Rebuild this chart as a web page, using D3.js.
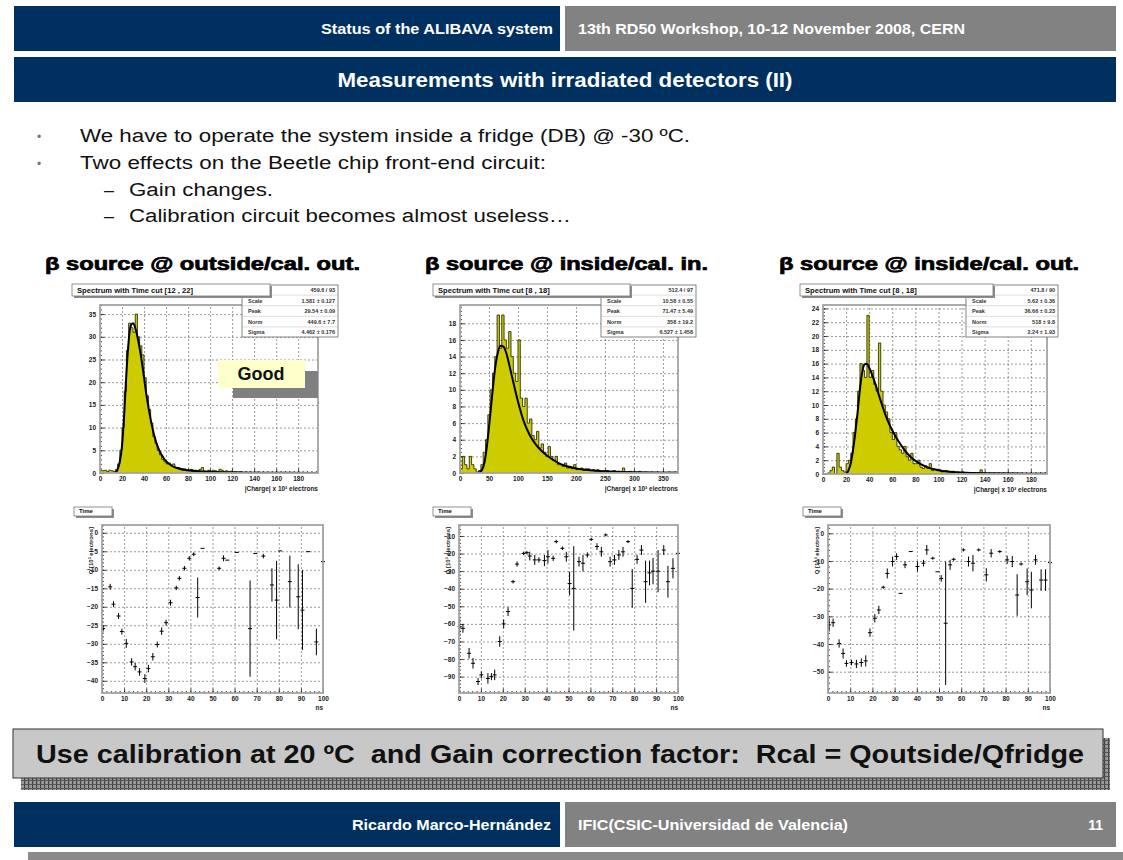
<!DOCTYPE html>
<html>
<head>
<meta charset="utf-8">
<script src="https://cdn.jsdelivr.net/npm/d3@7"></script>
<style>
  html, body { margin: 0; padding: 0; background: #fff; }
  svg { display: block; }
  text { white-space: pre; }
</style>
</head>
<body>
<svg id="slide" width="1123" height="860"></svg>
<script>
(function () {
  'use strict';

  // textos del slide
  var headerLeft = "Status of the ALIBAVA system";
  var headerRight = "13th RD50 Workshop, 10-12 November 2008, CERN";
  var slideTitle = "Measurements with irradiated detectors (II)";
  var bullets = [
    "We have to operate the system inside a fridge (DB) @ -30 ºC.",
    "Two effects on the Beetle chip front-end circuit:"
  ];
  var subBullets = ["Gain changes.", "Calibration circuit becomes almost useless…"];
  var headings = ["β source @ outside/cal. out.", "β source @ inside/cal. in.", "β source @ inside/cal. out."];
  var conclusion = "Use calibration at 20 ºC  and Gain correction factor:  Rcal = Qoutside/Qfridge";
  var footerLeft = "Ricardo Marco-Hernández";
  var footerRight = "IFIC(CSIC-Universidad de Valencia)";
  var pageNumber = "11";

  var spectrumTitles = ["Spectrum with Time cut [12 , 22]", "Spectrum with Time cut [8 , 18]", "Spectrum with Time cut [8 , 18]"];
  var statNames = ["χ²/ndf", "Scale", "Peak", "Norm", "Sigma"];
  var stats1 = ["459.6 / 93", "1.581 ± 0.127", "29.54 ± 0.09", "449.6 ± 7.7", "4.462 ± 0.176"];
  var stats2 = ["512.4 / 97", "10.58 ± 0.55", "71.47 ± 5.49", "358 ± 19.2", "6.527 ± 1.458"];
  var stats3 = ["471.8 / 90", "5.62 ± 0.36", "36.66 ± 0.23", "518 ± 9.8", "2.24 ± 1.93"];

  // espectros: contenido por bin (bin de 2, 4 y 2 unidades desde 0)
  var spec1BinWidth = 2;
  var spec1Counts = [0.6, 0.5, 0.6, 0.3, 0.6, 0.5, 0.3, 0.8, 2, 5,
    10, 18, 27, 33, 32, 31, 35, 30, 28, 26,
    21, 17, 14, 11, 8, 6.5, 5, 4, 3, 2.5,
    2, 2.2, 1.8, 2, 1.2, 1.2, 0.8, 0.6, 0.9, 0.5,
    0.6, 0.8, 0.4, 0.6, 0.5, 0.8, 1.2, 0.5, 0.4, 0.6,
    0.3, 0.6, 0.5, 0.3, 0.8, 0.6, 0.3, 0.5, 0.3, 0.4,
    0.2, 0.3, 0.1, 0.3, 0.2, 0.1, 0.2, 0, 0.2, 0.1,
    0, 0.2, 0, 0.1, 0, 0, 0.1, 0, 0, 0,
    0, 0, 0, 0, 0, 0, 0, 0, 0, 0,
    0, 0, 0, 0, 0, 0, 0, 0, 0];
  var fit1 = [[14, 0], [16, 0.8], [18, 2.5], [20, 6], [22, 13], [24, 22], [26, 29], [28, 32.5], [30, 33],
    [32, 32], [34, 30], [36, 27.5], [38, 24.5], [40, 21], [42, 17.5], [44, 14.5], [46, 11.8], [48, 9.5],
    [50, 7.6], [52, 6.1], [54, 4.9], [56, 4], [58, 3.2], [60, 2.6], [65, 1.6], [70, 1.1], [80, 0.6],
    [90, 0.4], [100, 0.25], [120, 0.12], [140, 0.06], [170, 0.03], [198, 0.02]];

  var spec2BinWidth = 4;
  var spec2Counts = [0.5, 2, 1, 0.5, 2, 1, 0.5, 0, 0.3, 1,
    2.5, 4, 7, 10, 12, 14, 19, 15, 19, 16,
    15, 17, 14, 12, 11, 16, 9, 8, 9, 6,
    6.5, 4.5, 4, 5, 3, 3.5, 2.5, 2, 3.2, 2,
    1.5, 2, 1, 1, 0.8, 1.2, 0.6, 0.8, 0.5, 1,
    0.4, 0.5, 0.6, 0.3, 0.5, 0.5, 0.3, 0.4, 0.2, 0.4,
    0.3, 0.2, 0.3, 0.3, 0.1, 0.2, 0.3, 0.1, 0.2, 0.1,
    0.6, 0.1, 0.1, 0.2, 0.1, 0.1, 0.1, 0.2, 0.1, 0.1,
    0.1, 0.1, 0.1, 0.1, 0.1, 0.1, 0.1, 0.1, 0.1, 0.1,
    0.1, 0.1, 0.1, 0.1];
  var fit2 = [[32, 0], [38, 0.4], [42, 1.2], [46, 3], [50, 5.5], [55, 9], [60, 12.3], [65, 14.4], [70, 15.3],
    [75, 15.2], [80, 14.4], [85, 13], [90, 11.5], [95, 10], [100, 8.6], [110, 6.2], [120, 4.6], [130, 3.5],
    [140, 2.7], [150, 2.1], [160, 1.6], [170, 1.2], [180, 0.9], [200, 0.55], [220, 0.35], [250, 0.2],
    [300, 0.08], [350, 0.03], [376, 0.02]];

  var spec3BinWidth = 2;
  var spec3Counts = [0, 0, 0, 0.5, 1, 0, 3, 1, 0.5, 0.3,
    1.5, 2, 3, 6, 8, 12, 16, 15, 14, 23,
    14, 15, 13, 12, 19, 12, 10, 9, 8, 6,
    5, 6, 4, 3.5, 3, 4, 2.5, 2, 3, 1.5,
    1.5, 2, 1, 0.8, 1.2, 0.8, 1.5, 0.5, 0.7, 0.5,
    0.6, 0.3, 0.4, 0.5, 0.3, 0.3, 0.4, 0.2, 0.3, 0.2,
    0.3, 0.2, 0.1, 0.2, 0.1, 0.2, 0.1, 0.2, 0.6, 0.1,
    0.1, 0.1, 0.1, 0.1, 0.1, 0.1, 0.1, 0.1, 0.1, 0.1,
    0.1, 0.1, 0.1, 0.1, 0.1, 0.1, 0.1, 0.1, 0.1, 0.1,
    0.1, 0.1, 0.1, 0.1, 0.1, 0.1, 0.1];
  var fit3 = [[20, 0], [22, 0.5], [24, 1.5], [26, 3.5], [28, 6], [30, 9], [32, 12.3], [34, 14.8], [36, 15.9],
    [38, 16], [40, 15.4], [43, 14.2], [46, 12.7], [50, 10.6], [54, 8.6], [58, 7], [62, 5.7], [66, 4.6],
    [70, 3.6], [75, 2.6], [80, 1.9], [90, 1], [100, 0.55], [120, 0.2], [140, 0.1], [194, 0.03]];

  // escaneo en tiempo: [ns, carga (10^3 e), error]
  var time1 = [[0.5, -25.9, 0.8], [3.7, -14.6, 0.8], [5.2, -19.3, 0.8], [7.5, -22.5, 0.8], [9, -26.7, 0.8],
    [11, -29.9, 1.2], [13.4, -34.9, 1], [15, -36.2, 1], [17, -37.6, 1], [19.4, -39.4, 1.2], [21, -36.7, 1],
    [23, -33.5, 1], [25, -30.2, 0.8], [27, -26.6, 1], [29, -24.3, 0.8], [31, -18.9, 0.8], [33.6, -14.9, 0.6],
    [35, -12.3, 0.6], [37.3, -9.6, 0.6], [39.5, -6.9, 0.6], [41.5, -5.8, 0.5], [43.3, -17.5, 5.4],
    [45.5, -4.2, 0], [53, -9.6, 0.5], [55, -6.9, 0.8], [56.7, -7.4, 0], [61, -5.3, 0], [67, -25.9, 13],
    [69.4, -5.6, 0], [73, -6.3, 0.6], [76.9, -14.1, 4.5], [79, -18.2, 10.6], [80.6, -4.9, 0],
    [85, -13.2, 7], [88.8, -17.3, 8.8], [90.7, -20.9, 10.8], [93.3, -5.1, 0], [97, -29.5, 3.6], [100, -7.8, 0.5]];
  var time2 = [[0.3, -61.6, 4.7], [1.8, -62.5, 2.5], [4.6, -76.7, 3], [6.4, -82.4, 3], [8.7, -92.8, 2],
    [10.2, -89, 2], [13.2, -91, 3], [14.8, -90, 2], [16.3, -89, 3], [18.6, -70, 3], [20.4, -60, 2.5],
    [22.4, -53, 2.5], [24.7, -36, 1], [26.5, -26, 1.5], [29.5, -19.9, 1], [31, -19.5, 1], [32.3, -21.4, 2.5],
    [34.6, -23.6, 2.8], [36.5, -23.6, 1.5], [39, -24, 3.2], [40.6, -21.8, 3.8], [43, -22.7, 1.5],
    [44.4, -13.2, 1], [47.2, -17, 1], [49, -21.8, 2.8], [50.5, -37, 6.6], [52.4, -39.8, 24],
    [54.8, -24.6, 2.8], [56.6, -25.5, 4.7], [58.6, -20.8, 1.5], [60.4, -11.9, 0.5], [63, -16, 1.9],
    [65, -19, 2.8], [67, -9.4, 0.5], [69, -24.6, 2.8], [71, -23.6, 2.8], [73, -20.8, 2.8], [74.9, -19, 2.8],
    [77.2, -13.2, 0.5], [79.1, -39.8, 11], [81.3, -23.3, 2.5], [83.3, -18, 2.8], [85.2, -36, 12],
    [87, -31, 7], [88.6, -30, 7.5], [90.9, -30, 12], [93.5, -18, 2.8], [95.4, -36, 9], [97.7, -28.4, 5.7],
    [100, -19.9, 0.5]];
  var time3 = [[0.5, -33.1, 2.4], [2.3, -32.3, 1.5], [5, -39.8, 1.5], [6.8, -43.4, 1.8], [8.3, -47, 1.2],
    [10.6, -46.7, 1], [12.8, -47.2, 1.5], [15, -46.7, 1.5], [17, -46.1, 2], [18.9, -35.9, 1.5],
    [21.1, -30.7, 1.5], [22.9, -27.7, 1.5], [24.9, -19.5, 0.5], [26.7, -14.5, 1.8], [29.1, -10.2, 1.8],
    [30.9, -8.4, 1.2], [32.7, -21.7, 0], [34.7, -11.4, 1.2], [37.3, -6.6, 0], [40.3, -12, 1.8],
    [43, -10.8, 1.2], [44.5, -6, 1.8], [47.2, -9, 0.5], [49.3, -13.9, 0], [51, -16.3, 1.2],
    [53, -32.5, 22.3], [55, -11.4, 1.8], [56.6, -9.4, 0.5], [61, -6, 0.5], [63.3, -10.2, 1.8],
    [65.3, -10.8, 3], [67.9, -6, 0.5], [71.3, -15, 2.4], [73.5, -7.2, 1.5], [77.4, -6.6, 0.5],
    [80.7, -9.6, 1.5], [83, -10.2, 2], [85.2, -22.3, 7.5], [87, -11.1, 0.5], [89.7, -17.5, 4.8],
    [91.6, -20.5, 6.6], [93.5, -9.6, 1.8], [96, -16.9, 3.9], [98, -16.9, 3.9], [100, -10.6, 0.5]];

  // etiquetas de los ejes
  var specXTicks1 = [0, 20, 40, 60, 80, 100, 120, 140, 160, 180];
  var specYTicks1 = [0, 5, 10, 15, 20, 25, 30, 35];
  var specXTicks2 = [0, 50, 100, 150, 200, 250, 300, 350];
  var specYTicks2 = [0, 2, 4, 6, 8, 10, 12, 14, 16, 18];
  var specXTicks3 = [0, 20, 40, 60, 80, 100, 120, 140, 160, 180];
  var specYTicks3 = [0, 2, 4, 6, 8, 10, 12, 14, 16, 18, 20, 22, 24];
  var timeXTicks = [0, 10, 20, 30, 40, 50, 60, 70, 80, 90, 100];
  var timeYTicks1 = [0, -5, -10, -15, -20, -25, -30, -35, -40];
  var timeYTicks2 = [-10, -20, -30, -40, -50, -60, -70, -80, -90];
  var timeYTicks3 = [0, -10, -20, -30, -40, -50];

  var NAVY = "#00305f";
  var GREY = "#828282";
  var FONT = "'Liberation Sans', Arial, sans-serif";
  var NARROW = "'Liberation Sans Narrow', 'Liberation Sans', Arial, sans-serif";

  var svg = d3.select("#slide");
  var defs = svg.append("defs");

  drawSlideFrame();
  drawBullets();

  // histogramas de carga
  drawSpectrum({ x: 100, y: 305, w: 218, h: 168, xMax: 198, yMax: 37, xMinor: 4, yMinor: 1,
    counts: spec1Counts, binWidth: spec1BinWidth, fit: fit1, xTicks: specXTicks1, yTicks: specYTicks1,
    title: spectrumTitles[0], titleBox: [72, 284, 198], stats: stats1, statsBox: [242, 285, 96, 52] });
  drawSpectrum({ x: 460, y: 305, w: 218, h: 168, xMax: 376, yMax: 20.2, xMinor: 10, yMinor: 0.5,
    counts: spec2Counts, binWidth: spec2BinWidth, fit: fit2, xTicks: specXTicks2, yTicks: specYTicks2,
    title: spectrumTitles[1], titleBox: [433, 284, 197], stats: stats2, statsBox: [601, 285, 95, 52] });
  drawSpectrum({ x: 823, y: 305, w: 224, h: 169, xMax: 194, yMax: 24.5, xMinor: 4, yMinor: 0.5,
    counts: spec3Counts, binWidth: spec3BinWidth, fit: fit3, xTicks: specXTicks3, yTicks: specYTicks3,
    title: spectrumTitles[2], titleBox: [800, 284, 193], stats: stats3, statsBox: [966, 285, 92, 52] });

  drawGoodLabel();

  // escaneos de tiempo
  drawTimeScan({ x: 102, y: 525, w: 221, h: 168, yMin: -43.3, yMax: 2.1, yMinor: 1,
    points: time1, yTicks: timeYTicks1, titleBox: [74, 507] });
  drawTimeScan({ x: 459, y: 525, w: 219, h: 168, yMin: -99.3, yMax: -3.75, yMinor: 2,
    points: time2, yTicks: timeYTicks2, titleBox: [433, 507] });
  drawTimeScan({ x: 828, y: 525, w: 222, h: 168, yMin: -57.7, yMax: 3, yMinor: 2,
    points: time3, yTicks: timeYTicks3, titleBox: [803, 507] });

  drawConclusion();

  function drawSlideFrame() {
    // cabecera
    svg.append("rect").attr("x", 14).attr("y", 6).attr("width", 546).attr("height", 45).attr("fill", NAVY);
    svg.append("rect").attr("x", 565).attr("y", 6).attr("width", 551).attr("height", 45).attr("fill", GREY);
    addText(553, 34, headerLeft, { size: 14, weight: "bold", anchor: "end", family: NARROW, length: 232 });
    addText(578, 34, headerRight, { size: 14, weight: "bold", family: NARROW, length: 387 });

    svg.append("rect").attr("x", 14).attr("y", 57).attr("width", 1102).attr("height", 45).attr("fill", NAVY);
    addText(565, 87, slideTitle, { size: 20, weight: "bold", anchor: "middle", family: NARROW, length: 455 });

    // pie de pagina
    svg.append("rect").attr("x", 14).attr("y", 802).attr("width", 546).attr("height", 45).attr("fill", NAVY);
    svg.append("rect").attr("x", 565).attr("y", 802).attr("width", 551).attr("height", 45).attr("fill", GREY);
    svg.append("rect").attr("x", 28).attr("y", 852).attr("width", 1095).attr("height", 8).attr("fill", "#8a8a8a");
    addText(551, 830, footerLeft, { size: 14, weight: "bold", anchor: "end", family: NARROW, length: 199 });
    addText(578, 830, footerRight, { size: 14, weight: "bold", family: NARROW, length: 270 });
    addText(1103, 830, pageNumber, { size: 14, weight: "bold", anchor: "end", family: NARROW });
  }

  function drawBullets() {
    var lengths = [610, 466];
    bullets.forEach(function (b, i) {
      var y = 142 + i * 27;
      addText(37, y - 1, "•", { size: 12, fill: "#777" });
      addText(80, y, b, { size: 18, fill: "#111", length: lengths[i] });
    });
    var subLengths = [144, 442];
    subBullets.forEach(function (b, i) {
      var y = 196 + i * 26;
      addText(104, y, "–", { size: 18, fill: "#111" });
      addText(129, y, b, { size: 18, fill: "#111", length: subLengths[i] });
    });

    // titulos de columna, mas gruesos como Arial Black
    var hx = [45, 425, 779];
    var hl = [315, 283, 300];
    headings.forEach(function (h, i) {
      addText(hx[i], 270, h, { size: 18, weight: "bold", fill: "#000", length: hl[i] })
        .attr("stroke", "#000").attr("stroke-width", 0.7);
    });
  }

  function drawGoodLabel() {
    svg.append("rect").attr("x", 233).attr("y", 371).attr("width", 85).attr("height", 27).attr("fill", "#808080");
    svg.append("rect").attr("x", 218).attr("y", 360).attr("width", 87).attr("height", 28).attr("fill", "#ffffcc");
    addText(261, 380, "Good", { size: 18, weight: "bold", anchor: "middle", fill: "#111" });
  }

  function drawConclusion() {
    var pat = defs.append("pattern").attr("id", "hatch").attr("patternUnits", "userSpaceOnUse")
      .attr("width", 4).attr("height", 4);
    pat.append("rect").attr("width", 4).attr("height", 4).attr("fill", "#9a9a9a");
    pat.append("rect").attr("width", 1.2).attr("height", 4).attr("fill", "#444");
    pat.append("rect").attr("width", 4).attr("height", 1).attr("fill", "#555");

    svg.append("rect").attr("x", 21).attr("y", 738).attr("width", 1089).attr("height", 52).attr("fill", "url(#hatch)");
    svg.append("rect").attr("x", 13).attr("y", 729).attr("width", 1090).attr("height", 49)
      .attr("fill", "#c8c8c8").attr("stroke", "#333").attr("stroke-width", 1);
    addText(36, 763, conclusion, { size: 25, weight: "bold", fill: "#111", length: 1048 })
      .attr("xml:space", "preserve");
  }

  function addText(x, y, str, o) {
    var t = svg.append("text")
      .attr("x", x).attr("y", y)
      .attr("font-family", o.family || FONT)
      .attr("font-size", o.size)
      .attr("font-weight", o.weight || "normal")
      .attr("fill", o.fill || "#fff")
      .attr("text-anchor", o.anchor || "start")
      .text(str);
    if (o.length) {
      t.attr("textLength", o.length).attr("lengthAdjust", "spacingAndGlyphs");
    }
    return t;
  }

  // ejes tipo ROOT: rejilla punteada, marcas hacia dentro, marcas menores
  function drawAxes(g, xs, ys, xTicks, yTicks, xMinor, yMinor, w, h) {
    var xd = xs.domain(), yd = ys.domain();
    var gridX = g.append("g").attr("transform", "translate(0," + h + ")")
      .call(d3.axisBottom(xs).tickValues(xTicks.filter(function (v) { return v > xd[0]; })).tickSize(-h).tickFormat(""));
    var gridY = g.append("g")
      .call(d3.axisLeft(ys).tickValues(yTicks.filter(function (v) { return v > yd[0]; })).tickSize(-w).tickFormat(""));
    [gridX, gridY].forEach(function (a) {
      a.select(".domain").remove();
      a.selectAll("line").attr("stroke", "#555").attr("stroke-width", 0.6).attr("stroke-dasharray", "2,2");
    });

    var minorX = d3.range(xd[0], xd[1] + 1e-9, xMinor);
    var minorY = d3.range(Math.ceil(yd[0] / yMinor) * yMinor, yd[1] + 1e-9, yMinor);

    var ax = g.append("g").attr("transform", "translate(0," + h + ")")
      .call(d3.axisBottom(xs).tickValues(minorX).tickSize(-2).tickFormat(""));
    var ay = g.append("g")
      .call(d3.axisLeft(ys).tickValues(minorY).tickSize(-2).tickFormat(""));
    var mx = g.append("g").attr("transform", "translate(0," + h + ")")
      .call(d3.axisBottom(xs).tickValues(xTicks).tickSize(-4.5).tickPadding(3).tickFormat(d3.format("d")));
    var my = g.append("g")
      .call(d3.axisLeft(ys).tickValues(yTicks).tickSize(-4.5).tickPadding(4).tickFormat(d3.format("d")));
    [ax, ay, mx, my].forEach(function (a) {
      a.select(".domain").remove();
      a.selectAll("line").attr("stroke", "#111").attr("stroke-width", 0.8);
      a.selectAll("text").attr("font-family", FONT).attr("font-size", 6.5).attr("font-weight", "bold").attr("fill", "#222");
    });
  }

  function drawTitleBox(x, y, w, h, str, size) {
    svg.append("rect").attr("x", x + 2).attr("y", y + 2).attr("width", w).attr("height", h).attr("fill", "#8c8c8c");
    svg.append("rect").attr("x", x).attr("y", y).attr("width", w).attr("height", h)
      .attr("fill", "#fff").attr("stroke", "#777").attr("stroke-width", 0.8);
    addText(x + 5, y + h - 3.5, str, { size: size, weight: "bold", fill: "#111" });
  }

  function drawSpectrum(p) {
    var g = svg.append("g").attr("transform", "translate(" + p.x + "," + p.y + ")");
    g.append("rect").attr("width", p.w).attr("height", p.h).attr("fill", "#fff");

    var xs = d3.scaleLinear().domain([0, p.xMax]).range([0, p.w]);
    var ys = d3.scaleLinear().domain([0, p.yMax]).range([p.h, 0]);

    var clipId = "clip" + p.x;
    defs.append("clipPath").attr("id", clipId).append("rect").attr("width", p.w).attr("height", p.h);

    drawAxes(g, xs, ys, p.xTicks, p.yTicks, p.xMinor, p.yMinor, p.w, p.h);

    // contorno en escalera de los bins
    var steps = [[0, 0]];
    p.counts.forEach(function (c, i) {
      steps.push([i * p.binWidth, c]);
      steps.push([(i + 1) * p.binWidth, c]);
    });
    steps.push([p.counts.length * p.binWidth, 0]);

    var plot = g.append("g").attr("clip-path", "url(#" + clipId + ")");
    plot.append("path")
      .datum(steps)
      .attr("d", d3.area().x(function (d) { return xs(d[0]); }).y0(ys(0)).y1(function (d) { return ys(d[1]); }))
      .attr("fill", "#cccc00");
    plot.append("path")
      .datum(steps)
      .attr("d", d3.line().x(function (d) { return xs(d[0]); }).y(function (d) { return ys(d[1]); }))
      .attr("fill", "none").attr("stroke", "#1a1a00").attr("stroke-width", 0.8);
    plot.append("path")
      .datum(p.fit)
      .attr("d", d3.line().curve(d3.curveMonotoneX).x(function (d) { return xs(d[0]); }).y(function (d) { return ys(d[1]); }))
      .attr("fill", "none").attr("stroke", "#000").attr("stroke-width", 2);

    g.append("rect").attr("width", p.w).attr("height", p.h)
      .attr("fill", "none").attr("stroke", "#a3a3a3").attr("stroke-width", 1.8);

    g.append("text").attr("x", p.w).attr("y", p.h + 17.5).attr("text-anchor", "end")
      .attr("font-family", FONT).attr("font-size", 6.5).attr("font-weight", "bold").attr("fill", "#222")
      .text("|Charge| x 10³ electrons");

    // cuadro de estadisticas del ajuste
    var sb = p.statsBox;
    svg.append("rect").attr("x", sb[0]).attr("y", sb[1]).attr("width", sb[2]).attr("height", sb[3])
      .attr("fill", "#fff").attr("stroke", "#666").attr("stroke-width", 0.8);
    statNames.forEach(function (n, i) {
      var yy = sb[1] + 7 + i * 10.6;
      addText(sb[0] + 6, yy, n, { size: 5.5, weight: "bold", fill: "#333" });
      addText(sb[0] + sb[2] - 3, yy, p.stats[i], { size: 5.5, weight: "bold", fill: "#333", anchor: "end" });
      if (i > 0) {
        svg.append("line").attr("x1", sb[0]).attr("x2", sb[0] + sb[2])
          .attr("y1", yy - 7.5).attr("y2", yy - 7.5).attr("stroke", "#bbb").attr("stroke-width", 0.5);
      }
    });

    var tb = p.titleBox;
    drawTitleBox(tb[0], tb[1], tb[2], 12, p.title, 7.6);
  }

  function drawTimeScan(p) {
    var g = svg.append("g").attr("transform", "translate(" + p.x + "," + p.y + ")");
    g.append("rect").attr("width", p.w).attr("height", p.h).attr("fill", "#fff");

    var xs = d3.scaleLinear().domain([0, 100]).range([0, p.w]);
    var ys = d3.scaleLinear().domain([p.yMin, p.yMax]).range([p.h, 0]);

    drawAxes(g, xs, ys, timeXTicks, p.yTicks, 2, p.yMinor, p.w, p.h);

    var pts = g.append("g").attr("stroke", "#000").attr("stroke-width", 1);
    p.points.forEach(function (d) {
      var cx = xs(d[0]);
      var cy = ys(d[1]);
      var top = Math.min(ys(d[1] + d[2]), cy - 1.5);
      var bot = Math.max(ys(d[1] - d[2]), cy + 1.5);
      if (d[2] > 0) {
        pts.append("line").attr("x1", cx).attr("x2", cx).attr("y1", top).attr("y2", bot);
      }
      pts.append("line").attr("x1", cx - 2).attr("x2", cx + 2).attr("y1", cy).attr("y2", cy);
    });

    g.append("rect").attr("width", p.w).attr("height", p.h)
      .attr("fill", "none").attr("stroke", "#a3a3a3").attr("stroke-width", 1.8);

    g.append("text").attr("x", p.w).attr("y", p.h + 17).attr("text-anchor", "end")
      .attr("font-family", FONT).attr("font-size", 6.5).attr("font-weight", "bold").attr("fill", "#222")
      .text("ns");
    g.append("text").attr("transform", "translate(-9,2) rotate(-90)").attr("text-anchor", "end")
      .attr("font-family", FONT).attr("font-size", 6).attr("font-weight", "bold").attr("fill", "#222")
      .text("Q [10³ electrons]");

    drawTitleBox(p.titleBox[0], p.titleBox[1], 38, 9, "Time", 6);
  }

}());
</script>
</body>
</html>
